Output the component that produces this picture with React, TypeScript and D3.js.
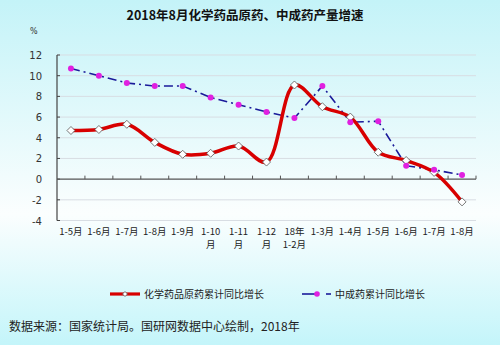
import React from "react";
import * as d3 from "d3";

const categories: string[][] = [
  ["1-5月"], ["1-6月"], ["1-7月"], ["1-8月"], ["1-9月"], ["1-10", "月"], ["1-11", "月"],
  ["1-12", "月"], ["18年", "1-2月"], ["1-3月"], ["1-4月"], ["1-5月"], ["1-6月"], ["1-7月"], ["1-8月"],
];
const chemValues = [4.7, 4.8, 5.3, 3.55, 2.4, 2.5, 3.2, 1.65, 9.1, 7.0, 6.0, 2.6, 1.8, 0.65, -2.2];
const tcmValues = [10.7, 10.0, 9.3, 9.0, 9.0, 7.9, 7.2, 6.5, 5.9, 9.0, 5.5, 5.6, 1.3, 0.9, 0.4];
const yTicks = [-4, -2, 0, 2, 4, 6, 8, 10, 12];
const seriesNames = ["化学药品原药累计同比增长", "中成药累计同比增长"];
const title = "2018年8月化学药品原药、中成药产量增速";
const source = "数据来源：国家统计局。国研网数据中心绘制，2018年";

export default function App() {
  const left = 57, right = 476, top = 55, bottom = 220.5;
  const idx = categories.map((_, i) => String(i));
  const x = d3.scaleBand<string>().domain(idx).range([left, right]).padding(0);
  const cx = (i: number) => (x(String(i)) as number) + x.bandwidth() / 2;
  const y = d3.scaleLinear().domain([-4, 12]).range([bottom, top]);

  const redLine = d3.line<number>().x((_, i) => cx(i)).y((d) => y(d)).curve(d3.curveCatmullRom.alpha(0.5));
  const blueLine = d3.line<number>().x((_, i) => cx(i)).y((d) => y(d));

  const cjk = "'Noto Sans CJK SC', 'Noto Sans', sans-serif";
  const num = "'DejaVu Sans', sans-serif";
  const red = "#d80000";
  const blue = "#1a1a9a";
  const pink = "#e020e0";

  const diamond = (px: number, py: number, s: number, key?: any) => (
    <path key={key} d={`M${px},${py - s}L${px + s},${py}L${px},${py + s}L${px - s},${py}Z`} fill="#fff" stroke="#555" strokeWidth={0.8} />
  );

  return (
    <svg width={500} height={345} style={{ position: "absolute", left: 0, top: 0 }} xmlns="http://www.w3.org/2000/svg">
      <defs>
        <linearGradient id="bg" x1="0" y1="0" x2="0" y2="1">
          <stop offset="0" stopColor="#c4f3f8" />
          <stop offset="0.62" stopColor="#fbfefe" />
          <stop offset="1" stopColor="#c4f5fa" />
        </linearGradient>
      </defs>
      <rect x={0} y={0} width={500} height={345} fill="url(#bg)" />
      <text x={245} y={20} textAnchor="middle" fontFamily={cjk} fontWeight="bold" fontSize={12.5} fill="#111">{title}</text>
      <text x={30} y={34} fontFamily={num} fontSize={8} fill="#333">%</text>

      {yTicks.map((t) => (
        <g key={t}>
          {t !== 0 && <line x1={left} x2={right} y1={y(t)} y2={y(t)} stroke="#d8dde3" strokeWidth={1} />}
          <line x1={left} x2={left + 3} y1={y(t)} y2={y(t)} stroke="#444" strokeWidth={1} />
          <text x={42} y={y(t) + 4} textAnchor="end" fontFamily={num} fontSize={10} fill="#333">{t}</text>
        </g>
      ))}
      <line x1={left} x2={left} y1={top} y2={bottom} stroke="#444" strokeWidth={1.2} />
      <line x1={left} x2={right} y1={y(0)} y2={y(0)} stroke="#555" strokeWidth={1.2} />
      {idx.map((d, i) => (
        <line key={"t" + i} x1={(x(d) as number) + x.bandwidth()} x2={(x(d) as number) + x.bandwidth()} y1={y(0)} y2={y(0) - 3.5} stroke="#555" strokeWidth={1} />
      ))}

      {categories.map((lines, i) =>
        lines.map((l, j) => (
          <text key={"c" + i + "_" + j} x={cx(i)} y={235 + j * 13} textAnchor="middle" fontFamily={cjk} fontSize={9.5} fill="#222">{l}</text>
        ))
      )}

      <path d={blueLine(tcmValues) as string} fill="none" stroke={blue} strokeWidth={1.6} strokeDasharray="9,4,2,4" />
      <path d={redLine(chemValues) as string} fill="none" stroke={red} strokeWidth={3.5} strokeLinejoin="round" />
      {chemValues.map((v, i) => diamond(cx(i), y(v), 4, "d" + i))}
      {tcmValues.map((v, i) => (
        <circle key={"p" + i} cx={cx(i)} cy={y(v)} r={3} fill={pink} />
      ))}

      <line x1={110} x2={140} y1={294} y2={294} stroke={red} strokeWidth={3.2} />
      {diamond(125, 294, 2.5)}
      <text x={144} y={298} fontFamily={cjk} fontSize={10} fill="#222">{seriesNames[0]}</text>
      <line x1={302} x2={317} y1={294} y2={294} stroke={blue} strokeWidth={1.6} />
      <circle cx={317} cy={294} r={2.8} fill={pink} />
      <line x1={326} x2={331} y1={294} y2={294} stroke={blue} strokeWidth={1.6} />
      <text x={335} y={298} fontFamily={cjk} fontSize={10} fill="#222">{seriesNames[1]}</text>

      <text x={9} y={331} fontFamily={cjk} fontSize={12} fill="#222">{source}</text>
    </svg>
  );
}
